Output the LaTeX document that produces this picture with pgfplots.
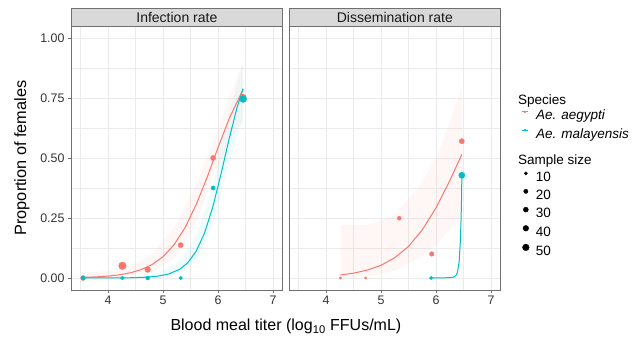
\documentclass[border=0pt]{standalone}
\usepackage{pgfplots}
\pgfplotsset{compat=1.18}
\usepackage{fontspec}
\setmainfont{Liberation Sans}
\definecolor{ggred}{HTML}{F8766D}
\definecolor{ggcyan}{HTML}{00BFC4}
\definecolor{gridc}{HTML}{EBEBEB}
\definecolor{stripc}{HTML}{D9D9D9}
\definecolor{framec}{HTML}{707070}

\pgfplotsset{
 panel/.style={
  scale only axis, width=211.7bp, height=264bp,
  xmin=3.325, xmax=7.175, ymin=-0.05, ymax=1.05,
  xtick={4,5,6,7}, ytick={0,0.25,0.5,0.75,1},
  xticklabels={4,5,6,7},
  minor xtick={3.5,4.5,5.5,6.5}, minor ytick={0.125,0.375,0.625,0.875},
  grid=both,
  major grid style={draw=gridc, line width=0.8bp},
  minor grid style={draw=gridc, line width=0.4bp},
  axis line style={draw=framec, line width=0.7bp},
  tick align=outside, major tick length=3bp, minor tick length=0pt,
  tick style={draw=framec, line width=0.7bp},
  tick pos=left,
  ticklabel style={font=\fontsize{12.4bp}{14bp}\selectfont, text=black!80},
  xticklabel style={yshift=1bp},
  anchor=south west,
 },
 pt/.style={only marks, mark=*, color=#1, mark options={solid, fill=#1, draw=#1, line width=0.4bp}},
 rib/.style={fill=#1, fill opacity=0.06, draw=none},
 fit/.style={draw=#1, line width=1bp, no marks},
}

\begin{document}
\begin{tikzpicture}
\useasboundingbox (0,0) rectangle (639bp,359bp);

% strips
\draw[fill=stripc, draw=framec, line width=0.7bp] (71bp,333bp) rectangle (282.7bp,350.7bp);
\draw[fill=stripc, draw=framec, line width=0.7bp] (289bp,333bp) rectangle (500.7bp,350.7bp);
\node[anchor=base, inner sep=0pt, font=\fontsize{14bp}{16bp}\selectfont, text=black!90] at (176.85bp,336.8bp) {Infection rate};
\node[anchor=base, inner sep=0pt, font=\fontsize{14bp}{16bp}\selectfont, text=black!90] at (394.85bp,336.8bp) {Dissemination rate};

% left panel: infection rate
\begin{axis}[panel, at={(71bp,69bp)},
  yticklabels={0.00,0.25,0.50,0.75,1.00}]
\addplot[rib=ggred] coordinates {(3.545,0.02)(4.0,0.03)(4.4,0.05)(4.8,0.10)(5.2,0.21)(5.6,0.39)(5.9,0.56)(6.2,0.75)(6.455,0.90)
 (6.455,0.66)(6.2,0.56)(5.9,0.42)(5.6,0.23)(5.2,0.08)(4.8,0.025)(4.4,0.008)(4.0,0.002)(3.545,0.0)} -- cycle;
\addplot[rib=ggcyan] coordinates {(3.545,0.003)(4.5,0.005)(4.9,0.02)(5.3,0.07)(5.6,0.17)(5.9,0.38)(6.2,0.68)(6.455,0.90)
 (6.455,0.66)(6.2,0.48)(5.9,0.22)(5.6,0.07)(5.3,0.015)(4.9,0.002)(4.5,0)(3.545,0)} -- cycle;
\addplot[fit=ggred] coordinates {(3.545,0.0026)(3.8,0.0048)(4.0,0.0080)(4.2,0.0131)(4.4,0.0214)(4.6,0.0347)(4.8,0.056)(5.0,0.089)(5.2,0.139)(5.4,0.210)(5.6,0.305)(5.8,0.419)(6.0,0.544)(6.2,0.663)(6.455,0.786)};
\addplot[fit=ggcyan] coordinates {(3.545,0.0000)(4.0,0.0002)(4.4,0.001)(4.7,0.0034)(4.9,0.0075)(5.1,0.0166)(5.3,0.036)(5.45,0.064)(5.6,0.111)(5.75,0.185)(5.9,0.293)(6.05,0.430)(6.2,0.579)(6.35,0.715)(6.455,0.789)};
% Ae. aegypti points (size = sample size)
\addplot[pt=ggred, mark size=2.5] coordinates {(3.545,0)};
\addplot[pt=ggred, mark size=3.8] coordinates {(4.26,0.051)};
\addplot[pt=ggred, mark size=2.8] coordinates {(4.72,0.035)};
\addplot[pt=ggred, mark size=2.6] coordinates {(5.32,0.137)};
\addplot[pt=ggred, mark size=2.6] coordinates {(5.91,0.50)};
\addplot[pt=ggred, mark size=3.1] coordinates {(6.455,0.753)};
% Ae. malayensis points
\addplot[pt=ggcyan, mark size=2.0] coordinates {(3.545,0)};
\addplot[pt=ggcyan, mark size=1.9] coordinates {(4.26,0)};
\addplot[pt=ggcyan, mark size=2.0] coordinates {(4.72,0)};
\addplot[pt=ggcyan, mark size=1.8] coordinates {(5.32,0)};
\addplot[pt=ggcyan, mark size=2.1] coordinates {(5.91,0.375)};
\addplot[pt=ggcyan, mark size=3.5] coordinates {(6.455,0.746)};
\end{axis}

% right panel: dissemination rate
\begin{axis}[panel, at={(289bp,69bp)}, yticklabels={}, ytick style={draw=none}]
\addplot[rib=ggred] coordinates {(4.26,0.22)(4.75,0.22)(5.25,0.26)(5.75,0.40)(6.0,0.50)(6.25,0.65)(6.468,0.80)
 (6.468,0.25)(6.25,0.20)(6.0,0.14)(5.75,0.09)(5.25,0.03)(4.75,0.005)(4.26,0)} -- cycle;
\addplot[fit=ggred] coordinates {(4.26,0.0126)(4.5,0.0202)(4.75,0.0329)(5.0,0.053)(5.25,0.0847)(5.5,0.132)(5.75,0.201)(6.0,0.293)(6.25,0.406)(6.468,0.515)};
\addplot[fit=ggcyan] coordinates {(5.91,0)(6.1,0.0003)(6.25,0.0015)(6.32,0.004)(6.36,0.01)(6.39,0.025)(6.42,0.07)(6.44,0.15)(6.455,0.25)(6.465,0.35)(6.468,0.428)};
\addplot[pt=ggred, mark size=1.2] coordinates {(4.26,0)};
\addplot[pt=ggred, mark size=1.2] coordinates {(4.72,0)};
\addplot[pt=ggred, mark size=2.0] coordinates {(5.33,0.249)};
\addplot[pt=ggred, mark size=2.3] coordinates {(5.92,0.10)};
\addplot[pt=ggred, mark size=2.6] coordinates {(6.468,0.570)};
\addplot[pt=ggcyan, mark size=1.8] coordinates {(5.91,0)};
\addplot[pt=ggcyan, mark size=3.1] coordinates {(6.468,0.428)};
\end{axis}

% axis titles
\node[rotate=90, anchor=center, inner sep=0pt, font=\fontsize{16.3bp}{18bp}\selectfont] at (22bp,201bp) {Proportion of females};
\node[anchor=base, inner sep=0pt, font=\fontsize{16bp}{18bp}\selectfont] at (285.9bp,28.3bp) {Blood meal titer (log\textsubscript{10} FFUs/mL)};

% legend titles
\node[anchor=base west, inner sep=0pt, font=\fontsize{13.5bp}{15bp}\selectfont] at (518bp,254.7bp) {Species};
\node[anchor=base west, inner sep=0pt, font=\fontsize{13.5bp}{15bp}\selectfont] at (518bp,194.7bp) {Sample size};

% species legend
\begin{axis}[hide axis, scale only axis, width=1bp, height=1bp, at={(521bp,249.3bp)}, anchor=south west,
  xmin=0, xmax=1, ymin=0, ymax=1,
  legend image code/.code={\draw[#1, line width=1bp] (0bp,4.6bp) -- (6.5bp,4.6bp); \fill[#1] (3.25bp,4.6bp) circle (1bp);},
  legend cell align=left,
  legend style={at={(0,0)}, anchor=north west, draw=none, fill=none, inner sep=0pt,
    column sep=7.5bp, row sep=5.3bp,
    font=\fontsize{13.5bp}{15bp}\selectfont\itshape,
    nodes={inner sep=0pt, text height=10bp, text depth=3bp}}]
\addlegendimage{ggred}
\addlegendentry{Ae. aegypti}
\addlegendimage{ggcyan}
\addlegendentry{Ae. malayensis}
\end{axis}

% sample size legend
\begin{axis}[hide axis, scale only axis, width=1bp, height=1bp, at={(522.3bp,187.65bp)}, anchor=south west,
  xmin=0, xmax=1, ymin=0, ymax=1,
  legend image code/.code={\draw[#1] plot coordinates {(0bp,4.65bp)};},
  legend cell align=left,
  legend style={at={(0,0)}, anchor=north west, draw=none, fill=none, inner sep=0pt,
    column sep=6.6bp, row sep=4.65bp,
    font=\fontsize{13.5bp}{15bp}\selectfont,
    nodes={inner sep=0pt, text height=10bp, text depth=3bp}}]
\addlegendimage{black, mark=*, mark size=1.65}
\addlegendentry{10}
\addlegendimage{black, mark=*, mark size=2.15}
\addlegendentry{20}
\addlegendimage{black, mark=*, mark size=2.5}
\addlegendentry{30}
\addlegendimage{black, mark=*, mark size=2.85}
\addlegendentry{40}
\addlegendimage{black, mark=*, mark size=3.35}
\addlegendentry{50}
\end{axis}
\end{tikzpicture}
\end{document}
